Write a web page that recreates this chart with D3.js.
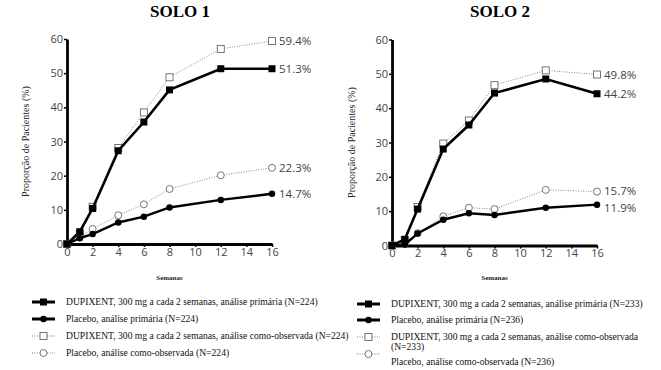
<!DOCTYPE html>
<html>
<head>
  <meta charset="utf-8">
  <script src="https://d3js.org/d3.v7.min.js"></script>
  <style>
  body { margin: 0; background: #fff; }
  .title { font-family: "Liberation Serif", serif; font-weight: bold; font-size: 17px; }
  .ylab { font-family: "Liberation Serif", serif; font-size: 10px; fill: #222; }
  .xlab { font-family: "Liberation Serif", serif; font-weight: bold; font-size: 7px; fill: #222; }
  .axis text { font-family: "Open Sans", sans-serif; font-size: 11px; fill: #444; }
  .axis path, .axis line { stroke: #000; }
  .endlab { font-family: "Open Sans", sans-serif; font-size: 11.5px; fill: #444; }
  .legend text { font-family: "Liberation Serif", serif; font-size: 9.6px; fill: #111; }
  </style>
</head>
<body>
<script>
// semanas
var weeks = [0, 1, 2, 4, 6, 8, 12, 16];
var xTicks = [0, 2, 4, 6, 8, 10, 12, 14, 16];
var yTicks = [0, 10, 20, 30, 40, 50, 60];

// SOLO 1
var solo1DupiPrimary = [0, 3.6, 10.4, 27.3, 35.7, 45.1, 51.3, 51.3];
var solo1PlaceboPrimary = [0, 1.7, 2.9, 6.3, 8.0, 10.7, 12.9, 14.7];
var solo1DupiObserved = [0, 3.0, 10.9, 28.1, 38.5, 48.8, 57.1, 59.4];
var solo1PlaceboObserved = [0, 2.0, 4.4, 8.4, 11.6, 16.1, 20.1, 22.3];

// SOLO 2
var solo2DupiPrimary = [0, 1.8, 10.6, 28.1, 35.1, 44.4, 48.5, 44.2];
var solo2PlaceboPrimary = [0, 0.3, 3.5, 7.5, 9.4, 8.9, 11.0, 11.9];
var solo2DupiObserved = [0, 1.6, 11.2, 29.7, 36.4, 46.7, 51.0, 49.8];
var solo2PlaceboObserved = [0, 0.5, 3.6, 8.5, 11.0, 10.6, 16.2, 15.7];

var legend1 = [
  ["DUPIXENT, 300 mg a cada 2 semanas, análise primária (N=224)"],
  ["Placebo, análise primária (N=224)"],
  ["DUPIXENT, 300 mg a cada 2 semanas, análise como-observada (N=224)"],
  ["Placebo, análise como-observada (N=224)"]
];
var legend2 = [
  ["DUPIXENT, 300 mg a cada 2 semanas, análise primária (N=233)"],
  ["Placebo, análise primária (N=236)"],
  ["DUPIXENT, 300 mg a cada 2 semanas, análise como-observada", "(N=233)"],
  ["Placebo, análise como-observada (N=236)"]
];

var svg = d3.select("body").append("svg")
  .attr("width", 661).attr("height", 370);

// estilos das séries: 0 dupi primária, 1 placebo primária, 2 dupi obs, 3 placebo obs
var styles = [
  {stroke: "#000", width: 2.6, dash: null, shape: "square", fill: "#000", size: 7},
  {stroke: "#000", width: 2.4, dash: null, shape: "circle", fill: "#000", size: 6.5},
  {stroke: "#888", width: 1, dash: "1,1.5", shape: "square", fill: "#fff", size: 7},
  {stroke: "#888", width: 1, dash: "1,1.5", shape: "circle", fill: "#fff", size: 7}
];

function marker(g, st, x, y) {
  if (st.shape == "square") {
    g.append("rect")
      .attr("x", x - st.size / 2).attr("y", y - st.size / 2)
      .attr("width", st.size).attr("height", st.size)
      .attr("fill", st.fill)
      .attr("stroke", st.fill == "#fff" ? "#666" : "#000")
      .attr("stroke-width", st.fill == "#fff" ? 0.9 : 0);
  } else {
    g.append("circle")
      .attr("cx", x).attr("cy", y).attr("r", st.size / 2)
      .attr("fill", st.fill)
      .attr("stroke", st.fill == "#fff" ? "#666" : "#000")
      .attr("stroke-width", st.fill == "#fff" ? 0.9 : 0);
  }
}

function panel(p) {
  var x = d3.scaleLinear().domain([0, 16]).range([p.x0, p.x1]);
  var y = d3.scaleLinear().domain([0, 60]).range([p.y0, p.y1]);
  var g = svg.append("g");

  g.append("text").attr("class", "title")
    .attr("x", p.titleX).attr("y", 17)
    .attr("text-anchor", "middle").text(p.title);

  g.append("text").attr("class", "ylab")
    .attr("transform", "translate(" + p.ylabX + "," + ((p.y0 + p.y1) / 2) + ") rotate(-90)")
    .attr("text-anchor", "middle").text("Proporção de Pacientes (%)");

  g.append("text").attr("class", "xlab")
    .attr("x", (p.x0 + p.x1) / 2).attr("y", 280)
    .attr("text-anchor", "middle").text("Semanas");

  var xAxis = g.append("g").attr("class", "axis")
    .attr("transform", "translate(0," + p.y0 + ")")
    .call(d3.axisBottom(x).tickValues(xTicks).tickSize(3).tickSizeOuter(0).tickPadding(1));
  xAxis.select(".domain").attr("stroke-width", 2.8);
  xAxis.selectAll(".tick line").attr("stroke-width", 1.5);

  var yAxis = g.append("g").attr("class", "axis")
    .attr("transform", "translate(" + p.x0 + ",0)")
    .call(d3.axisLeft(y).tickValues(yTicks).tickSize(3).tickSizeOuter(0).tickPadding(1));
  yAxis.select(".domain").attr("stroke-width", 2.8);
  yAxis.selectAll(".tick line").attr("stroke-width", 1.5);

  var line = d3.line()
    .x(function(d, i) { return x(weeks[i]); })
    .y(function(d) { return y(d); });

  [2, 3, 1, 0].forEach(function(k) {
    var st = styles[k];
    var vals = p.series[k];
    g.append("path").datum(vals)
      .attr("d", line)
      .attr("fill", "none")
      .attr("stroke", st.stroke)
      .attr("stroke-width", st.width)
      .attr("stroke-dasharray", st.dash);
    vals.forEach(function(v, i) {
      marker(g, st, x(weeks[i]), y(v));
    });
  });

  // rótulos finais
  [2, 0, 3, 1].forEach(function(k) {
    var v = p.series[k][weeks.length - 1];
    g.append("text").attr("class", "endlab")
      .attr("x", x(16) + 7)
      .attr("y", y(v) + p.labelShift[k] + 4)
      .text(v.toFixed(1) + "%");
  });

  // legenda
  var lg = g.append("g").attr("class", "legend");
  p.legend.forEach(function(lines, k) {
    var st = styles[k];
    var sy = p.symY[k];
    lg.append("line")
      .attr("x1", p.legX).attr("x2", p.legX + 23)
      .attr("y1", sy).attr("y2", sy)
      .attr("stroke", st.stroke == "#000" ? "#000" : "#777")
      .attr("stroke-width", st.stroke == "#000" ? 3 : 1)
      .attr("stroke-dasharray", st.dash);
    marker(lg, st, p.legX + 11.5, sy);
    lines.forEach(function(t, j) {
      lg.append("text")
        .attr("x", p.legX + 34)
        .attr("y", p.textY[k] + j * 10 + 3)
        .text(t);
    });
  });
}

panel({
  title: "SOLO 1", titleX: 180, ylabX: 29,
  x0: 67, x1: 272, y0: 244, y1: 39,
  series: [solo1DupiPrimary, solo1PlaceboPrimary, solo1DupiObserved, solo1PlaceboObserved],
  labelShift: [0, 0, 0, 0],
  legend: legend1, legX: 32,
  symY: [302, 319, 336, 353], textY: [302, 319, 336, 353]
});

panel({
  title: "SOLO 2", titleX: 500, ylabX: 355,
  x0: 392, x1: 597, y0: 245.5, y1: 39.5,
  series: [solo2DupiPrimary, solo2PlaceboPrimary, solo2DupiObserved, solo2PlaceboObserved],
  labelShift: [0, 3, 0, -1],
  legend: legend2, legX: 357,
  symY: [304, 320, 337, 354], textY: [304, 320, 337, 362]
});
</script>
</body>
</html>
